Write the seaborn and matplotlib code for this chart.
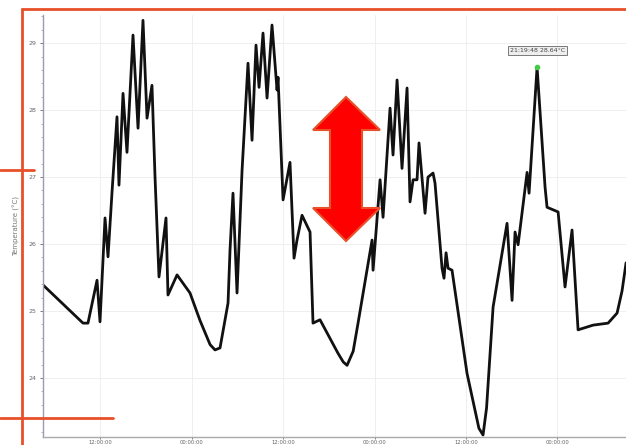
import matplotlib
matplotlib.use('Agg')
import matplotlib.pyplot as plt
import matplotlib.dates as mdates
from matplotlib.lines import Line2D
from matplotlib.patches import Polygon
from matplotlib.ticker import MultipleLocator, AutoMinorLocator
import numpy as np
import pandas as pd
import seaborn as sns

# hours since start of the log
hours = [0.0, 5.25, 5.9, 7.09, 7.48, 8.14, 8.53, 9.06, 9.71, 9.97, 10.5, 11.02,
         11.81, 12.47, 13.12, 13.65, 14.3, 14.7, 15.22, 16.14, 16.4, 17.59, 19.29,
         20.6, 21.92, 22.57, 23.23, 24.28, 24.54, 24.93, 25.46, 26.12, 26.9, 27.43,
         27.95, 28.35, 28.87, 29.4, 30.05, 30.71, 30.84, 31.5, 32.41, 32.94, 33.33,
         33.99, 35.04, 35.43, 36.35, 38.71, 39.4, 39.9, 40.7, 41.34, 43.18, 43.31,
         44.23, 44.62, 45.54, 45.93, 46.46, 47.11, 47.77, 48.16, 48.56, 49.08, 49.34,
         50.13, 50.52, 51.18, 51.44, 52.36, 52.62, 52.89, 53.15, 53.67, 55.64, 57.2,
         57.74, 58.2, 59.06, 60.89, 61.55, 61.94, 62.34, 63.52, 63.78, 64.83, 65.88,
         66.14, 67.59, 68.5, 69.42, 70.21, 72.18, 74.15, 75.33, 75.98, 76.51]
temps = [25.39, 24.82, 24.82, 25.46, 24.84, 26.39, 25.81, 26.78, 27.90, 26.88, 28.25, 27.37,
         29.12, 27.73, 29.34, 27.88, 28.37, 27.0, 25.51, 26.39, 25.24, 25.54, 25.27,
         24.86, 24.50, 24.42, 24.45, 25.12, 25.91, 26.76, 25.27, 27.10, 28.70, 27.55,
         28.97, 28.34, 29.15, 28.18, 29.27, 28.30, 28.49, 26.66, 27.22, 25.79, 26.06,
         26.43, 26.18, 24.82, 24.87, 24.37, 24.24, 24.19, 24.40, 24.82, 26.06, 25.61,
         26.96, 26.40, 28.03, 27.33, 28.45, 27.13, 28.33, 26.63, 26.96, 26.96, 27.51,
         26.46, 27.0, 27.06, 26.91, 25.64, 25.49, 25.87, 25.64, 25.61, 24.07, 23.25,
         23.15, 23.55, 25.06, 26.31, 25.16, 26.18, 25.99, 27.07, 26.76, 28.64, 26.85,
         26.55, 26.48, 25.36, 26.21, 24.72, 24.79, 24.82, 24.97, 25.30, 25.72]

start = pd.Timestamp('2020-06-14 04:30:00')
times = start + pd.to_timedelta(hours, unit='h')
df = pd.DataFrame({'time': times, 'temp': temps})

sns.set_theme(style='whitegrid')
plt.rcParams['font.family'] = ['DejaVu Sans']

W, H = 626, 445
fig = plt.figure(figsize=(W / 100, H / 100), dpi=100)
ax = fig.add_axes([43 / W, 8 / H, (W - 43) / W, (437 - 15) / H])

sns.lineplot(data=df, x='time', y='temp', ax=ax, color='#111111', lw=2.0)

ax.set_xlim(start, start + pd.Timedelta(hours=76.5))
ax.set_ylim(23.12, 29.42)

ax.xaxis.set_major_locator(mdates.HourLocator(byhour=[0, 12]))
ax.xaxis.set_major_formatter(mdates.DateFormatter('%H:%M:%S'))
ax.yaxis.set_major_locator(MultipleLocator(1))
ax.yaxis.set_minor_locator(AutoMinorLocator(5))
ax.yaxis.set_major_formatter(plt.FuncFormatter(lambda v, p: f'{v:.0f}'))

ax.set_xlabel('')
ax.set_ylabel('Temperature (°C)', fontsize=5, color='#777777', labelpad=6)
ax.tick_params(axis='both', labelsize=4.5, colors='#666666', length=2.5, width=0.6,
               pad=2, left=True, bottom=True)
ax.tick_params(axis='x', labelsize=3.8, pad=0.5, length=1.5)
ax.tick_params(axis='y', which='minor', left=True, length=1.5, width=0.5, color='#9999aa')
ax.grid(True, color='#ececec', lw=0.6)
ax.set_facecolor('white')
for s in ['top', 'right']:
    ax.spines[s].set_visible(False)
ax.spines['left'].set_color('#9a9ab0')
ax.spines['left'].set_linewidth(1.0)
ax.spines['bottom'].set_color('#aaaaaa')
ax.spines['bottom'].set_linewidth(1.0)

# marker and label on the last peak
last = df[df['time'] > start + pd.Timedelta(hours=60)]
pk = last['temp'].idxmax()
pt, pv = df.loc[pk, 'time'], df.loc[pk, 'temp']
ax.plot([pt], [pv], 'o', color='#44cc44', ms=3, zorder=5)
ax.annotate(f'{pt:%H:%M:%S} {pv:.2f}°C', (pt, pv), xytext=(0, 10),
            textcoords='offset points', ha='center', va='bottom', fontsize=4.5,
            color='#444444',
            bbox=dict(boxstyle='square,pad=0.3', fc='#eeeeee', ec='#666666', lw=0.6))

# red markup drawn over the screenshot
red = '#e8502a'


def fx(x):
    return x / W


def fy(y):
    return 1 - y / H


for xs, ys in [([22, W], [9, 9]), ([22, 22], [9, H]), ([0, 34], [170, 170]),
               ([0, 113], [418, 418])]:
    fig.add_artist(Line2D([fx(v) for v in xs], [fy(v) for v in ys],
                          transform=fig.transFigure, color=red, lw=2))

arrow = [(346, 97), (380, 130), (362, 130), (362, 208), (380, 208), (346, 241),
         (313, 208), (330, 208), (330, 130), (313, 130)]
fig.add_artist(Polygon([(fx(x), fy(y)) for x, y in arrow], closed=True,
                       transform=fig.transFigure, fc='#ff0000', ec=red, lw=1.5))

fig.savefig('out.png', dpi=100)
